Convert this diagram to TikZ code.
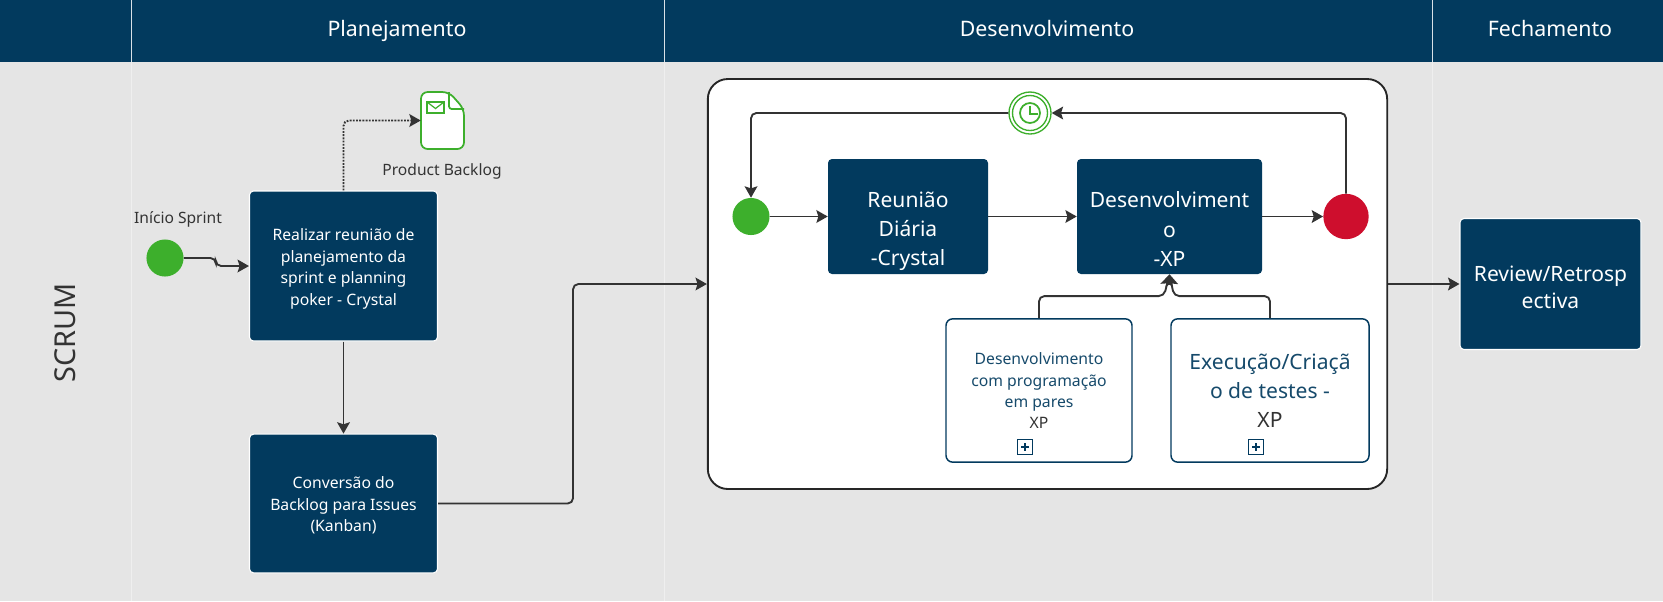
\documentclass[tikz,border=0pt]{standalone}
\usepackage{fontspec}
\setmainfont{Noto Sans}
\usepackage[dvipsnames]{xcolor}
\usetikzlibrary{arrows.meta}
\definecolor{navy}{HTML}{023A5E}
\definecolor{bandgray}{HTML}{E5E5E5}
\definecolor{linegray}{HTML}{333333}
\definecolor{eventgreen}{HTML}{3DAF2C}
\definecolor{eventred}{HTML}{CE0E2D}
\newcommand{\toppad}{\rule{0pt}{34pt}}
\tikzset{
    flow/.style={draw=linegray, line width=1.4pt, rounded corners=4pt, -{Stealth[length=8.5pt,width=9.5pt,inset=1.5pt]}},
    head/.style={anchor=base, text=white, font=\fontsize{16}{19}\selectfont},
    sepline/.style={draw=#1, line width=.7pt},
    task/.style={draw=white, line width=.8pt, fill=navy, text=white, rounded corners=3pt, align=center, inner sep=0pt},
    inner/.style={draw=none, fill=navy, text=white, rounded corners=3pt, align=center, inner sep=0pt, font=\fontsize{15.8}{21.8}\selectfont},
    subproc/.style={draw=navy, line width=1.1pt, fill=white, rounded corners=5pt, align=center, inner sep=0pt, minimum width=139.5pt, minimum height=107.5pt},
    smalltext/.style={font=\fontsize{11.8}{16.2}\selectfont},
    event/.style={circle, fill=#1, inner sep=0pt},
    plusbox/.style={draw=navy, line width=.9pt, minimum size=11pt, inner sep=0pt, path picture={
        \draw[navy, line width=.9pt] (path picture bounding box.north) ++(0,-2.5pt) -- ++(0,-6pt);
        \draw[navy, line width=.9pt] (path picture bounding box.west) ++(2.5pt,0) -- ++(6pt,0);
    }},
    note/.style={text=linegray, font=\fontsize{11.7}{14}\selectfont},
}
\begin{document}
\begin{tikzpicture}[x=.75pt, y=-.75pt]
    \useasboundingbox (0,0) rectangle (1663,601);
    \fill[bandgray] (0,0) rectangle (1663,601);
    \fill[navy] (0,0) rectangle (1663,61.5);
    \draw[sepline=white!85!navy] (131,0) -- (131,61.5);
    \draw[sepline=white!85!navy] (664,0) -- (664,61.5);
    \draw[sepline=white!85!navy] (1432,0) -- (1432,61.5);
    \draw[sepline=white!40!bandgray] (131,61.5) -- (131,601);
    \draw[sepline=white!40!bandgray] (664,61.5) -- (664,601);
    \draw[sepline=white!40!bandgray] (1432,61.5) -- (1432,601);

    \node[head] (planning) at (397,36) {Planejamento};
    \node[head] (develop) at (1047,36) {Desenvolvimento};
    \node[head] (closing) at (1550,36) {Fechamento};
    \node[rotate=90, text=linegray, font=\fontsize{21.6}{26}\selectfont] (scrum) at (65,333) {SCRUM};

    \node[event=eventgreen, minimum size=27.8pt] (sprintstart) at (165,258) {};
    \node[note, yshift=-1.5pt] (startlabel) at (178,217) {Início Sprint};
    \node[task, smalltext, minimum width=141pt, minimum height=112.5pt] (meeting) at (343.5,266) {\rule{0pt}{13.4pt}Realizar reunião de\\planejamento da\\sprint e planning\\poker - Crystal};
    \node[task, smalltext, minimum width=141pt, minimum height=104pt] (convert) at (343.5,503.5) {\rule{0pt}{11.8pt}Conversão do\\Backlog para Issues\\(Kanban)};

    \node[minimum width=32.25pt, minimum height=42.75pt, inner sep=0pt] (backlog) at (442.5,120.5) {};
    \draw[draw=eventgreen, fill=white, line width=1.3pt, rounded corners=5pt] (421,92) -- (449,92) -- (464,109) -- (464,149) -- (421,149) -- cycle;
    \draw[draw=eventgreen, line width=1.3pt, line join=round] (449,92) -- (449,105) [rounded corners=2pt] -- (449,109) -- (464,109);
    \draw[draw=eventgreen, line width=.9pt] (427,102) rectangle (444,113);
    \draw[draw=eventgreen, line width=.9pt] (427,102) -- (435.5,108.5) -- (444,102);
    \node[note, yshift=-1pt] (backloglabel) at (442,170) {Product Backlog};

    \node[draw=black!85, line width=1.4pt, fill=white, rounded corners=15pt, minimum width=509.5pt, minimum height=307.5pt, inner sep=0pt] (frame) at (1047.5,284) {};
    \node[circle, draw=eventgreen, line width=1pt, fill=white, minimum size=31.5pt, inner sep=0pt] (timer) at (1030,113) {};
    \draw[draw=eventgreen, line width=1pt] (1030,113) circle (17.5);
    \draw[draw=eventgreen, line width=1.3pt] (1030,113) circle (10);
    \draw[draw=eventgreen, line width=1.3pt] (1030,105.5) -- (1030,114) -- (1037.5,114);

    \node[event=eventgreen, minimum size=27.8pt] (innerstart) at (751,216.5) {};
    \node[event=eventred, minimum size=34pt] (innerend) at (1346,216.5) {};
    \node[inner, minimum width=120pt, minimum height=86.25pt] (daily) at (908,216.5) {\toppad Reunião\\Diária\\-Crystal};
    \node[inner, minimum width=138.75pt, minimum height=86.25pt] (devtask) at (1169.5,216.5) {\rule{0pt}{30.8pt}Desenvolviment\\o\\-XP};
    \node[subproc, text=navy!92!white, smalltext] (pairing) at (1039,390.5) {Desenvolvimento\\com programação\\em pares\\[-1pt]\textcolor{linegray}{XP}};
    \node[subproc, text=navy!92!white, font=\fontsize{15.8}{21.8}\selectfont, minimum width=148.5pt] (testing) at (1270,390.5) {Execução/Criaçã\\o de testes -\\\textcolor{linegray}{XP}};
    \node[plusbox] (pluspair) at (1025,447) {};
    \node[plusbox] (plustest) at (1256,447) {};

    \node[task, font=\fontsize{15.8}{21.8}\selectfont, minimum width=135.75pt, minimum height=98.25pt] (review) at (1550.5,284) {\rule{0pt}{17pt}Review/Retrosp\\[-1.5pt]ectiva};

    \draw[flow] (sprintstart.east) -- ++(32,0) -- ++(0,8) -- (meeting.west);
    \draw[flow, densely dotted] (meeting.north) |- (backlog.west);
    \draw[flow] (meeting.south) -- (convert.north);
    \draw[flow] (convert.east) -- ++(135,0) |- (frame.west);
    \draw[flow] (frame.east) -- (review.west);
    \draw[flow] (innerstart.east) -- (daily.west);
    \draw[flow] (daily.east) -- (devtask.west);
    \draw[flow] (devtask.east) -- (innerend.west);
    \draw[flow] (innerend.north) |- (timer.east);
    \draw[flow] (timer.west) -| (innerstart.north);
    \draw[flow] (pairing.north) |- ++(125,-22) -- (devtask.south);
    \draw[flow] (testing.north) |- ++(-96,-22) -- (devtask.south);
\end{tikzpicture}
\end{document}
